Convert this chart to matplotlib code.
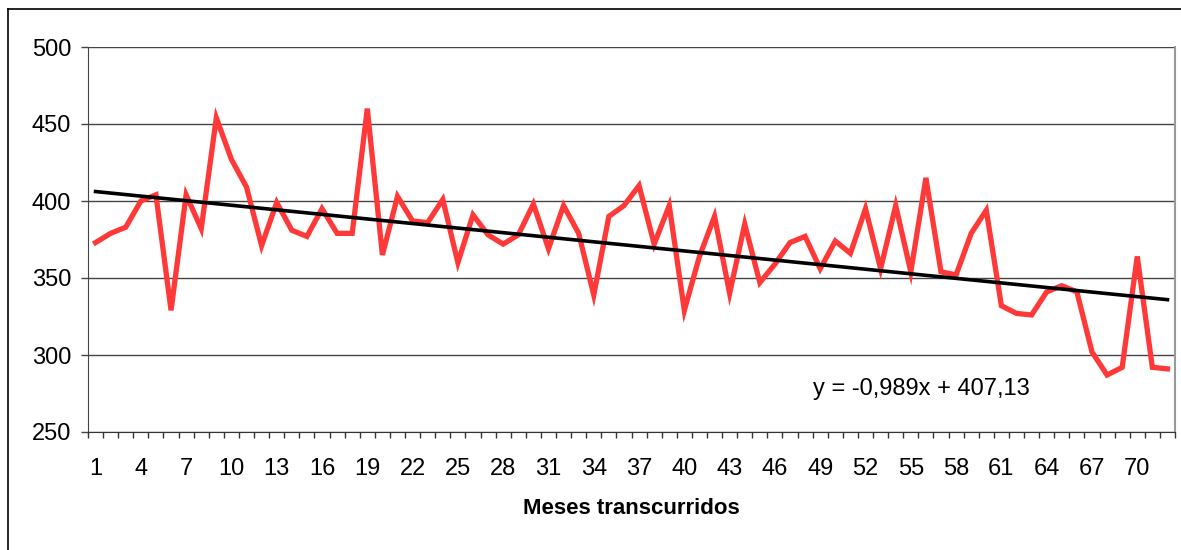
import numpy as np
import matplotlib.pyplot as plt
from matplotlib.lines import Line2D
from matplotlib.ticker import FixedLocator, NullFormatter

plt.rcParams['font.family'] = ['Liberation Sans', 'DejaVu Sans']

# datos mensuales
meses = np.arange(1, 73)
valores = [373, 379, 383, 400, 404, 329, 404, 382, 454, 427,
           409, 371, 399, 381, 377, 395, 379, 379, 460, 365,
           403, 387, 386, 401, 360, 391, 378, 372, 378, 398,
           369, 397, 379, 339, 390, 397, 410, 372, 397, 329,
           364, 390, 340, 385, 347, 359, 373, 377, 356, 374,
           366, 395, 356, 397, 354, 415, 354, 352, 379, 394,
           332, 327, 326, 341, 345, 341, 302, 287, 292, 364,
           292, 291]
pendiente = -0.989
ordenada = 407.13
etiquetas_x = list(range(1, 73, 3))
ticks_y = [250, 300, 350, 400, 450, 500]


def main():
    fig = plt.figure(figsize=(11.81, 5.5), dpi=100)
    ax = fig.add_axes([88 / 1181, 118 / 550, 1087 / 1181, 385 / 550])

    # marco exterior (solo se ve izquierda y arriba)
    fig.add_artist(Line2D([8 / 1181, 8 / 1181], [0, 1 - 9 / 550],
                          transform=fig.transFigure, color='black', lw=1.2))
    fig.add_artist(Line2D([8 / 1181, 1], [1 - 9 / 550, 1 - 9 / 550],
                          transform=fig.transFigure, color='black', lw=1.2))

    for y in ticks_y:
        ax.axhline(y, color='#444444', lw=1.0, zorder=1)

    ax.plot(meses, valores, color='#ff3838', lw=3.8, zorder=3,
            solid_joinstyle='miter')
    tendencia = pendiente * meses + ordenada
    ax.plot(meses, tendencia, color='black', lw=2.6, zorder=4)

    ax.text(0.667, 0.112, 'y = -0,989x + 407,13', transform=ax.transAxes,
            fontsize=17, ha='left', va='center')

    ax.set_xlim(0.5, 72.5)
    ax.set_ylim(250, 500)
    ax.set_yticks(ticks_y)
    ax.set_xticks(etiquetas_x)
    ax.xaxis.set_minor_locator(FixedLocator(np.arange(0.5, 73, 1)))
    ax.xaxis.set_minor_formatter(NullFormatter())
    ax.tick_params(axis='x', which='major', length=0, pad=19, labelsize=17)
    ax.tick_params(axis='x', which='minor', length=4.5, width=1,
                   color='#333333', direction='out')
    ax.tick_params(axis='y', which='major', length=5, width=1,
                   color='#444444', pad=7, labelsize=17)

    ax.spines['top'].set_visible(False)
    ax.spines['left'].set_color('#444444')
    ax.spines['bottom'].set_color('#333333')
    ax.spines['right'].set_color('#999999')
    ax.spines['right'].set_linewidth(1.5)

    ax.set_xlabel('Meses transcurridos', fontsize=16, fontweight='bold',
                  labelpad=13)

    fig.savefig('out.png', dpi=100)


if __name__ == '__main__':
    main()
